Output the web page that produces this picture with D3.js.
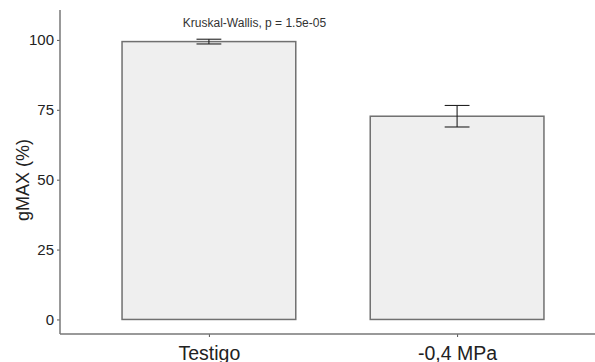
<!DOCTYPE html>
<html>
<head>
<meta charset="utf-8">
<script src="https://cdn.jsdelivr.net/npm/d3@7"></script>
<style>
  html, body { margin: 0; padding: 0; background: #fff; }
  svg { display: block; font-family: "Liberation Sans", Arial, sans-serif; }
</style>
</head>
<body>
<svg id="chart" width="595" height="362"></svg>
<script>
// Germination (gMAX %) by treatment, mean ± standard error
const categories = ["Testigo", "-0,4 MPa"];
const means = [99.4, 72.7];
const errors = [0.85, 3.85];
const yTicks = [0, 25, 50, 75, 100];
const testLabel = "Kruskal-Wallis, p = 1.5e-05";

const svg = d3.select("#chart");
const W = 595, H = 362;
const plotLeft = 60, plotTop = 10, plotBottom = 334;

const x = d3.scalePoint().domain(categories).range([plotLeft, 606]).padding(0.6);
const step = x.step();
const barW = step * 0.7;
const capW = step * 0.1;

const y = d3.scaleLinear().domain([-5.2, 110.7]).range([plotBottom, plotTop]);

// bars
svg.append("g").selectAll("rect")
  .data(categories)
  .join("rect")
  .attr("x", d => x(d) - barW / 2)
  .attr("y", (d, i) => y(means[i]))
  .attr("width", barW)
  .attr("height", (d, i) => y(0) - y(means[i]))
  .attr("fill", "#efefef")
  .attr("stroke", "#707070")
  .attr("stroke-width", 1.5);

// error bars
const eb = svg.append("g").attr("stroke", "#222").attr("stroke-width", 1.1).attr("fill", "none");
categories.forEach((c, i) => {
  const cx = x(c), hi = y(means[i] + errors[i]), lo = y(means[i] - errors[i]);
  eb.append("line").attr("x1", cx).attr("x2", cx).attr("y1", hi).attr("y2", lo);
  eb.append("line").attr("x1", cx - capW / 2).attr("x2", cx + capW / 2).attr("y1", hi).attr("y2", hi);
  eb.append("line").attr("x1", cx - capW / 2).attr("x2", cx + capW / 2).attr("y1", lo).attr("y2", lo);
});

// y axis
const yAxis = svg.append("g")
  .attr("transform", `translate(${plotLeft},0)`)
  .call(d3.axisLeft(y).tickValues(yTicks).tickSize(3).tickPadding(3).tickSizeOuter(0));
yAxis.select(".domain").remove();
yAxis.append("line").attr("x1", 0).attr("x2", 0).attr("y1", plotTop).attr("y2", plotBottom)
  .attr("stroke", "#777").attr("stroke-width", 1.5);
yAxis.selectAll(".tick line").attr("stroke", "#555");
yAxis.selectAll(".tick text").attr("fill", "#222").attr("font-size", 15)
  .attr("font-family", "Liberation Sans, Arial, sans-serif");

// x axis
const xAxis = svg.append("g")
  .attr("transform", `translate(0,${plotBottom})`)
  .call(d3.axisBottom(x).tickSize(3).tickPadding(9).tickSizeOuter(0));
xAxis.select(".domain").remove();
xAxis.append("line").attr("x1", plotLeft).attr("x2", W).attr("y1", 0).attr("y2", 0)
  .attr("stroke", "#777").attr("stroke-width", 1.5);
xAxis.selectAll(".tick line").attr("stroke", "#555");
xAxis.selectAll(".tick text").attr("fill", "#222").attr("font-size", 19.5)
  .attr("font-family", "Liberation Sans, Arial, sans-serif");

// y title
svg.append("text")
  .attr("transform", `translate(29,${(plotTop + plotBottom) / 2 + 8}) rotate(-90)`)
  .attr("text-anchor", "middle")
  .attr("font-size", 18)
  .attr("fill", "#222")
  .text("gMAX (%)");

// test annotation
svg.append("text")
  .attr("x", 254.5)
  .attr("y", 27)
  .attr("text-anchor", "middle")
  .attr("font-size", 12)
  .attr("fill", "#333")
  .text(testLabel);
</script>
</body>
</html>
